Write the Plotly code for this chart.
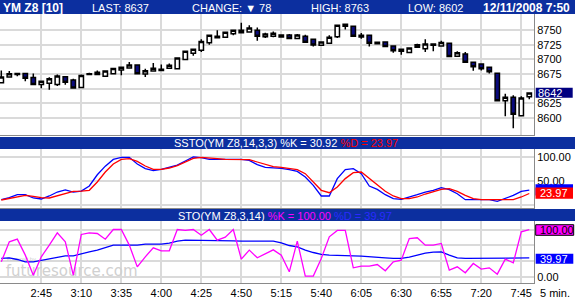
import plotly.graph_objects as go

# ---------------- data ----------------
bar_index = list(range(67))  # 5-minute bars, 2:20 .. 7:50
time_tick_index = [5, 10, 15, 20, 25, 30, 35, 40, 45, 50, 55, 60, 65]
time_tick_text = ["2:45", "3:10", "3:35", "4:00", "4:25", "4:50", "5:15",
                  "5:40", "6:05", "6:30", "6:55", "7:20", "7:45"]

opens = [8660, 8670, 8676, 8676, 8669, 8657, 8659, 8657, 8670.5, 8664.5,
         8652, 8675.5, 8674, 8671, 8675.5, 8682, 8685.5, 8690.5, 8675, 8680,
         8683, 8685, 8684, 8700, 8710.5, 8715.6, 8728.8, 8740, 8738, 8744.2,
         8750, 8747, 8750, 8739, 8740, 8742, 8742, 8736, 8740, 8734.5,
         8724.4, 8727.6, 8739, 8756.8, 8756.8, 8741.4, 8741.4, 8729.5, 8730, 8723,
         8717.3, 8712, 8720.8, 8718.5, 8726.5, 8723, 8728, 8705.3, 8709.4, 8695,
         8692, 8686.4, 8676.5, 8629, 8635, 8603.4, 8636]
highs = [8681, 8680, 8676.5, 8677, 8676, 8662.5, 8669.5, 8674, 8670.5, 8667,
         8674, 8677, 8681, 8681, 8684.5, 8686.5, 8695.5, 8690.5, 8684, 8694,
         8691.5, 8693, 8702.5, 8714, 8717.3, 8734.5, 8741.4, 8750, 8746.5, 8750,
         8763, 8758.5, 8755, 8746, 8748, 8742.5, 8743.6, 8743.6, 8742.4, 8734.5,
         8730, 8741.4, 8758.5, 8760.2, 8757, 8745.4, 8741.4, 8731, 8730, 8723,
         8717.3, 8719.6, 8727, 8734.5, 8726.5, 8732, 8728, 8714, 8712.8, 8695,
         8692, 8686.4, 8676.5, 8641.3, 8638.5, 8636.7, 8642.4]
lows = [8659, 8669, 8671, 8662.5, 8657, 8650.5, 8648, 8654.5, 8656.5, 8651,
        8652, 8673.5, 8674, 8671, 8675.5, 8673, 8685.5, 8675.5, 8670, 8680,
        8681, 8685, 8684, 8700, 8706.5, 8712.8, 8725.3, 8737.4, 8737, 8741.4,
        8746, 8747, 8732, 8737, 8738, 8738.5, 8736, 8736, 8729.3, 8722,
        8724.4, 8727.6, 8737, 8751.6, 8739.6, 8735.6, 8722, 8726, 8721, 8711.6,
        8708, 8712, 8720.8, 8712.8, 8714, 8723, 8705, 8705.3, 8695, 8680.8,
        8681, 8676, 8629, 8602.3, 8582, 8603.4, 8631.5]
closes = [8670, 8675.5, 8674, 8667.5, 8657, 8662.5, 8667, 8671.5, 8661, 8651,
          8672.5, 8674, 8678, 8680, 8684.5, 8686.5, 8690.5, 8675.5, 8680.5, 8685,
          8681, 8690, 8702.5, 8714, 8717.3, 8731, 8741.4, 8737.4, 8746.5, 8750,
          8746, 8754, 8740, 8743.6, 8745, 8738.5, 8736, 8742, 8729.3, 8724.8,
          8730, 8738, 8758.5, 8760.2, 8739.6, 8738.5, 8728, 8727, 8722, 8715,
          8714, 8719.6, 8725.3, 8726.5, 8724.2, 8729, 8705, 8711.6, 8695, 8687.6,
          8684, 8679, 8629, 8635, 8605.8, 8633.9, 8642.4]

ssto_k = [11.1, 15.3, 21.5, 21.5, 14.6, 12.5, 18.8, 27, 31.3, 27,
          29, 39.6, 63, 81, 95, 99.3, 99.3, 85.4, 75.7, 71.5,
          74.3, 79, 83.3, 91.7, 100, 98.6, 95.1, 95.1, 95.1, 95.1,
          95.1, 93, 84, 78.5, 77.8, 76.4, 73.6, 70.1, 58.3, 41,
          18.8, 18.8, 55, 73.6, 75.7, 65.3, 39.6, 32.6, 21.5, 13.2,
          11.8, 16, 21.5, 27, 30.6, 36.1, 32, 23.6, 11.1, 11.1,
          11.1, 11.1, 7.6, 13.2, 20.1, 28.5, 30.92]
ssto_d = [10.4, 13.2, 17.4, 20.1, 18, 15.3, 14.6, 18.8, 24.3, 28.5,
          29, 30.6, 47.9, 68.8, 85.4, 95.1, 96.5, 91, 81.3, 74.3,
          74.3, 77.1, 82, 89.6, 97.2, 99.3, 98.6, 96.5, 95.1, 95.1,
          95.1, 94.4, 89.6, 84, 79.9, 78.5, 75.7, 73.6, 65.3, 47.9,
          30.6, 25.7, 37.5, 55, 67.4, 68.8, 55, 41, 28.5, 18.8,
          13.2, 13.2, 16.7, 22.9, 27, 32.6, 34, 28.5, 20.1, 13.2,
          11.1, 11.1, 10.4, 11.1, 11.1, 16.7, 23.97]

sto_k = [31.7, 74, 79.6, 45.8, 3.5, 42.3, 67, 93, 74, 3.5,
         89.5, 93, 91.6, 79.6, 100, 100, 67, 21, 42.3, 61.3,
         55, 55, 100, 98, 100, 88, 100, 77.5, 83.9, 100,
         37.4, 56.4, 40.2, 48.6, 57, 45.8, 10.6, 75.4, 1.4, 1.4,
         38.8, 84.6, 98, 98, 19, 22.6, 22.6, 26, 12.7, 31.7,
         35.2, 81, 82.5, 67, 67, 70.5, 14.1, 21.1, 8.5, 28.2,
         16.2, 19, 5.6, 37.4, 29.6, 95, 100]
sto_d = [38.8, 40.2, 36.6, 31.7, 31.7, 35.2, 38.8, 42.3, 44.4, 44.4,
         49.3, 52.9, 56.4, 61.3, 67, 67, 67, 67, 69.1, 69.1,
         69.1, 71.2, 75.4, 77.5, 77.5, 77.5, 77.5, 77.5, 76.1, 76.1,
         75.4, 75.4, 75.4, 75.4, 75.4, 71.9, 66.2, 63.4, 56.4, 51.4,
         47.2, 45.8, 45.8, 45.8, 44.4, 43.7, 43, 42.3, 40.2, 38.8,
         38.8, 41.6, 45.8, 50, 52.1, 52.9, 45.8, 40.2, 38.8, 38.8,
         38.8, 38.8, 38.8, 38.8, 38.8, 38.8, 39.97]

price_ticks = [8600, 8625, 8650, 8675, 8700, 8725, 8750]
price_tick_text = ["8600", "8625", "", "8675", "8700", "8725", "8750"]
last_price = 8642
ssto_last_k, ssto_last_d = 30.92, 23.97
sto_last_k, sto_last_d = 100.00, 39.97

# ---------------- geometry helpers (pixel -> paper) ----------------
W, H = 575, 300
def px(x):
    return x / W
def py(y):
    return 1 - y / H

FONT = "Liberation Sans, Arial, sans-serif"
HDR = "#0c2f9f"
GRID = "#dadada"
AXL = "#8a8a8a"
XR = [-0.1625, 66.59]

fig = go.Figure()

# watermark (drawn beneath the STO lines)
fig.add_trace(go.Scatter(x=[0.55], y=[10], mode="text", text=["futuresource.com"],
                         textposition="middle right",
                         textfont=dict(family="DejaVu Sans", size=15, color="#d0d0d0"),
                         xaxis="x3", yaxis="y3", hoverinfo="skip", showlegend=False,
                         cliponaxis=False))
fig.add_trace(go.Scatter(x=[0.7], y=[37], mode="text", text=["Powered by"],
                         textposition="middle right",
                         textfont=dict(family="DejaVu Sans", size=5, color="#c8c8c8"),
                         xaxis="x3", yaxis="y3", hoverinfo="skip", showlegend=False,
                         cliponaxis=False))

fig.add_trace(go.Candlestick(
    x=bar_index, open=opens, high=highs, low=lows, close=closes,
    increasing=dict(line=dict(color="black", width=1.5), fillcolor="white"),
    decreasing=dict(line=dict(color="black", width=1.5), fillcolor="#0a0a7c"),
    whiskerwidth=0, xaxis="x", yaxis="y", hoverinfo="skip", showlegend=False))

fig.add_trace(go.Scatter(x=bar_index, y=ssto_k, mode="lines",
                         line=dict(color="#0000ff", width=1.3),
                         xaxis="x2", yaxis="y2", showlegend=False, hoverinfo="skip"))
fig.add_trace(go.Scatter(x=bar_index, y=ssto_d, mode="lines",
                         line=dict(color="#ff0000", width=1.3),
                         xaxis="x2", yaxis="y2", showlegend=False, hoverinfo="skip"))
fig.add_trace(go.Scatter(x=bar_index, y=sto_d, mode="lines",
                         line=dict(color="#0000ff", width=1.3),
                         xaxis="x3", yaxis="y3", showlegend=False, hoverinfo="skip"))
fig.add_trace(go.Scatter(x=bar_index, y=sto_k, mode="lines",
                         line=dict(color="#ff00ff", width=1.3),
                         xaxis="x3", yaxis="y3", showlegend=False, hoverinfo="skip"))

xdom = [0, px(534)]
common_x = dict(range=XR, domain=xdom, showgrid=True, gridcolor=GRID, gridwidth=2,
                tickvals=time_tick_index, ticktext=time_tick_text, zeroline=False,
                showline=True, linecolor=AXL, linewidth=1, ticks="", fixedrange=True)
common_y = dict(side="right", showgrid=True, gridcolor=GRID, gridwidth=2, zeroline=False,
                showline=True, linecolor=AXL, linewidth=1, ticks="",
                tickfont=dict(family=FONT, size=11, color="black"), fixedrange=True)

fig.update_layout(
    width=W, height=H, margin=dict(l=0, r=0, t=0, b=0),
    paper_bgcolor="white", plot_bgcolor="white", boxgap=0.22,
    font=dict(family=FONT, size=11, color="black"),
    xaxis=dict(**common_x, anchor="y", showticklabels=False,
               rangeslider=dict(visible=False)),
    xaxis2=dict(**common_x, anchor="y2", showticklabels=False),
    xaxis3=dict(**common_x, anchor="y3", showticklabels=True,
                tickfont=dict(family=FONT, size=11, color="black")),
    yaxis=dict(**common_y, anchor="x", domain=[py(135), py(14)],
               range=[8570.3, 8778], tickvals=price_ticks, ticktext=price_tick_text),
    yaxis2=dict(**common_y, anchor="x2", domain=[py(208), py(149)],
                range=[-6.25, 116.7], tickvals=[0, 50, 100],
                ticktext=["", "50.00", "100.00"]),
    yaxis3=dict(**common_y, anchor="x3", domain=[py(283), py(221)],
                range=[-13.1, 118], tickvals=[0, 33.33, 66.67, 100],
                ticktext=["0.00", "", "", ""]),
)

shapes = []
annotations = []

def rect(x0, y0, x1, y1, fill, line=None):
    shapes.append(dict(type="rect", xref="paper", yref="paper",
                       x0=px(x0), x1=px(x1), y0=py(y1), y1=py(y0),
                       fillcolor=fill, layer="above",
                       line=dict(color=line or fill, width=1 if line else 0)))

def text(x, y, s, size=11, color="white", anchor="left", bold=False):
    if bold:
        s = "<b>" + s + "</b>"
    annotations.append(dict(x=px(x), y=py(y), xref="paper", yref="paper", text=s,
                            showarrow=False, xanchor=anchor, yanchor="middle",
                            borderpad=0,
                            font=dict(family=FONT, size=size, color=color)))

# top header
rect(0, 0, 575, 14, HDR)
text(2, 7.5, "YM Z8 [10]", 12, bold=True)
text(91, 7.5, "LAST: 8637")
text(191, 7.5, "CHANGE: \u25bc 78")
text(310, 7.5, "HIGH: 8763")
text(407, 7.5, "LOW: 8602")
text(482, 7.5, "12/11/2008 7:50", 12, bold=True)

# SSTO header
rect(0, 137, 575, 149, HDR)
text(285.5, 143.5, "SSTO(YM Z8,14,3,3) %K = " + "%.2f" % ssto_last_k +
     " <span style='color:#ff0000'>%D = " + "%.2f" % ssto_last_d + "</span>",
     anchor="center")

# STO header
rect(0, 209, 575, 221, HDR)
text(285, 215.5, "STO(YM Z8,3,14) <span style='color:#ff00ff'>%K = " + "%.2f" % sto_last_k +
     "</span> <span style='color:#2a2aff'>%D = " + "%.2f" % sto_last_d + "</span>",
     anchor="center")

# last price label
rect(535.7, 87.8, 572.7, 97.8, "#000080")
text(537, 92.6, str(last_price))

# SSTO value labels
rect(535.5, 184.3, 573, 195.5, "#0000ff")
rect(535.5, 187.5, 573, 198.7, "#ff0000")
text(539, 193.3, "%.2f" % ssto_last_d)

# STO value labels
rect(535.7, 224.7, 573.7, 235.3, "#ff00ff", line="black")
text(538.5, 230, "%.2f" % sto_last_k, color="black")
rect(535.7, 253.7, 573.3, 263.7, "#0000ff")
text(538.5, 258.8, "%.2f" % sto_last_d)

# x-axis unit
text(555, 293, "5 min.", color="black", anchor="center")

fig.update_layout(shapes=shapes, annotations=annotations)
fig.write_html("out.html")
